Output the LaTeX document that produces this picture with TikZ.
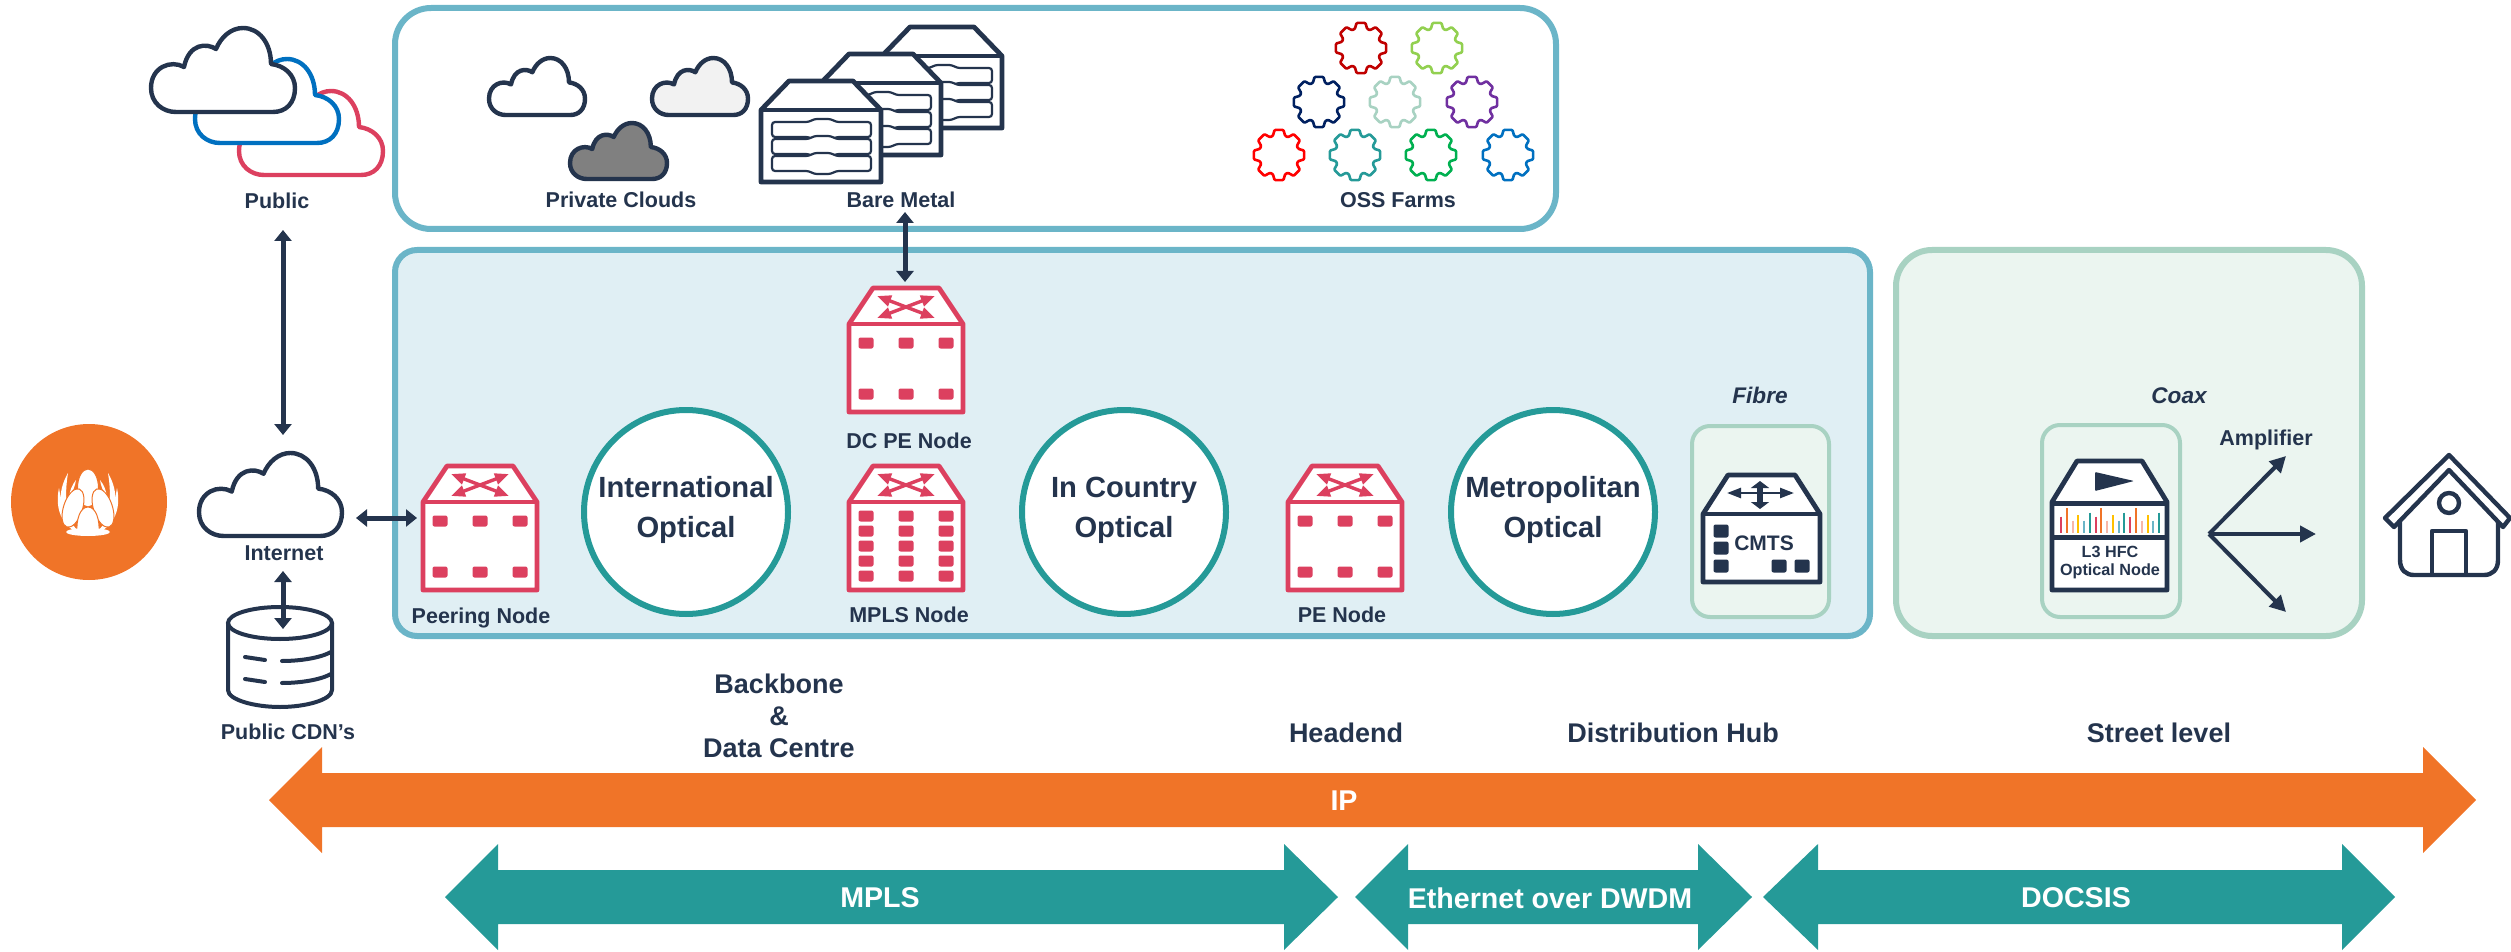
\documentclass[tikz,border=0pt]{standalone}
\usepackage{fontspec}
\setmainfont{Liberation Sans}
\usetikzlibrary{arrows.meta}
\definecolor{cNavy}{HTML}{24344D}
\definecolor{cRed}{HTML}{DC405F}
\definecolor{cTeal}{HTML}{259A98}
\definecolor{cOrange}{HTML}{F07428}
\definecolor{cSky}{HTML}{6BB5C8}
\definecolor{cMainFill}{HTML}{E0EFF4}
\definecolor{cMint}{HTML}{A8D2C2}
\definecolor{cMintFill}{HTML}{EBF5F0}
\definecolor{cBlue}{HTML}{0070C0}
\definecolor{cPeach}{HTML}{F7B7A8}
\definecolor{cYellow}{HTML}{FFC000}
\definecolor{gDarkRed}{HTML}{C00000}
\definecolor{gLime}{HTML}{92D050}
\definecolor{gNavy}{HTML}{002060}
\definecolor{gPurple}{HTML}{7030A0}
\definecolor{gRed}{HTML}{FF0000}
\definecolor{gGreen}{HTML}{00B050}
\tikzset{
  x=0.5pt,y=-0.5pt,
  lab/.style={font=\bfseries\fontsize{10.75pt}{12pt}\selectfont,text=cNavy,inner sep=0pt},
  biglab/.style={font=\bfseries\fontsize{13.5pt}{15pt}\selectfont,text=cNavy,inner sep=0pt},
  circlab/.style={font=\bfseries\fontsize{14.6pt}{17pt}\selectfont,text=cNavy,inner sep=0pt,align=center},
  bandlab/.style={font=\bfseries\fontsize{14.3pt}{16pt}\selectfont,text=white,inner sep=0pt},
  itlab/.style={font=\bfseries\itshape\fontsize{11.3pt}{13pt}\selectfont,text=cNavy,inner sep=0pt},
  panel/.style={rectangle,inner sep=0pt,rounded corners=#1},
  optical/.style={circle,draw=cTeal,line width=3pt,fill=white,minimum size=102pt,inner sep=0pt},
  dbl/.style={draw=cNavy,line width=2.5pt,{Triangle[length=5.5pt,width=8.5pt]}-{Triangle[length=5.5pt,width=8.5pt]}},
  fan/.style={draw=cNavy,line width=2pt,-{Triangle[length=8pt,width=8pt]}},
  iconline/.style={line width=2.4pt,line join=round},
  xarrow/.style={draw=cRed,line width=1.7pt,{Triangle[length=7pt,width=5.5pt]}-{Triangle[length=7pt,width=5.5pt]}},
  petal/.style={fill=white,draw=cOrange,line width=0.5pt},
}
\newcommand\panelbox[6]{\node[#6,minimum width={(#4-#2)*0.5pt},minimum height={(#5-#3)*0.5pt}] (#1) at ({(#2+#4)/2},{(#3+#5)/2}) {};}
\newcommand\cloudicon[7]{%
  \coordinate (#1) at ({#2+#4/2},{#3+#5/2});
  \begin{scope}[shift={(#2,#3)},xscale=#4/144,yscale=#5/56]
    \draw[draw=#6,fill=#7,line width=2.2pt,line join=round]
      (25,56) -- (122,56) .. controls (135,56) and (144,50) .. (144,40)
      .. controls (144,31) and (133,25) .. (120,24)
      .. controls (120,10) and (108,0) .. (92,0)
      .. controls (80,0) and (70,6) .. (65,14)
      .. controls (56,10) and (38,10) .. (33,26)
      .. controls (20,21) and (0,26) .. (0,40)
      .. controls (0,50) and (12,56) .. (25,56) -- cycle;
  \end{scope}}
\newcommand\routershell[3]{%
  \coordinate (#1) at (#2,{#3+62});
  \begin{scope}[shift={(#2,#3)}]
    \draw[draw=cRed,fill=white,iconline]
      (-57,36) -- (-33,0) -- (33,0) -- (57,36) -- (57,124) -- (-57,124) -- cycle;
    \draw[draw=cRed,iconline] (-57,36) -- (57,36);
    \draw[xarrow] (-29,8) -- (29,30);
    \draw[xarrow] (29,8) -- (-29,30);
  \end{scope}}
\newcommand\portsq[3]{\fill[#3,rounded corners=1pt] ({#1-7.5},{#2-5.5}) rectangle ({#1+7.5},{#2+5.5});}
\newcommand\serverrow[1]{%
  \draw[draw=cNavy,fill=white,line width=1.1pt,rounded corners=1.5pt]
    (11,#1) -- (48,#1) -- (53,{#1-3}) -- (70,{#1-3}) -- (75,#1) -- (110,#1)
    -- (110,{#1+15}) -- (75,{#1+15}) -- (70,{#1+18}) -- (53,{#1+18}) -- (48,{#1+15}) -- (11,{#1+15}) -- cycle;}
\newcommand\servericon[3]{%
  \coordinate (#1) at ({#2+60},{#3+50});
  \begin{scope}[shift={(#2,#3)}]
    \draw[draw=cNavy,fill=white,iconline] (0,29) -- (28,0) -- (92,0) -- (120,29) -- (120,101) -- (0,101) -- cycle;
    \draw[draw=cNavy,iconline] (0,29) -- (120,29);
    \serverrow{41}\serverrow{58}\serverrow{75}
  \end{scope}}
\newcommand\gearicon[4]{%
  \coordinate (#1) at (#2,#3);
  \begin{scope}[shift={(#2,#3)}]
    \draw[draw=#4,line width=1.3pt,line join=round,rounded corners=0.5pt,fill=white]
      (-18:20) foreach \a in {0,45,...,315} { -- (\a-18:20) -- (\a-10:25.5) -- (\a+10:25.5) -- (\a+18:20) } -- cycle;
  \end{scope}}
\newcommand\bandarrow[6]{%
  \fill[#6] (#1,#5) -- (#2,{#5-53}) -- (#2,{#5-27}) -- (#3,{#5-27}) -- (#3,{#5-53}) -- (#4,#5)
    -- (#3,{#5+53}) -- (#3,{#5+27}) -- (#2,{#5+27}) -- (#2,{#5+53}) -- cycle;}
\begin{document}
\begin{tikzpicture}
\useasboundingbox (0,0) rectangle (2511,952);
% panels
\panelbox{topPanel}{395}{8}{1556}{229}{panel=18pt,draw=cSky,line width=3pt,fill=white}
\panelbox{mainPanel}{395}{250}{1870}{636}{panel=11pt,draw=cSky,line width=3pt,fill=cMainFill}
\panelbox{coaxPanel}{1896}{250}{2362}{636}{panel=18pt,draw=cMint,line width=3pt,fill=cMintFill}
\panelbox{fibreBox}{1692}{426}{1829}{617}{panel=9pt,draw=cMint,line width=2pt,fill=cMintFill}
\panelbox{hfcBox}{2042}{425}{2180}{617}{panel=9pt,draw=cMint,line width=2pt,fill=cMintFill}
% public clouds
\cloudicon{cloudRed}{239}{91}{144}{84}{cRed}{white}
\cloudicon{cloudBlue}{195}{59}{144}{84}{cBlue}{white}
\cloudicon{cloudNavy}{151}{28}{144}{84}{cNavy}{white}
\node[lab] (lblPublic) at (277,201) {Public};
% internet & cdn
\cloudicon{cloudInternet}{199}{453}{143}{83}{cNavy}{white}
\node[lab] (lblInternet) at (284,553) {Internet};
\coordinate (cdnIcon) at (280,655);
\draw[draw=cNavy,line join=round,line width=2pt] (228,623) -- (228,690) .. controls (228,700) and (255,707) .. (280,707) .. controls (305,707) and (332,700) .. (332,690) -- (332,623);
\draw[draw=cNavy,line width=2pt] (280,623) ellipse (52 and 16);
\foreach \dy in {0,22}{
  \draw[draw=cNavy,line width=2pt,line cap=round] (245,{657+\dy}) -- (265,{660+\dy});
  \draw[draw=cNavy,line width=2pt,line cap=round] (282,{661+\dy}) .. controls (300,{661+\dy}) and (320,{658+\dy}) .. (331,{652+\dy});
}
\node[lab] (lblCDN) at (288,732) {Public CDN’s};
% logo
\node[circle,fill=cOrange,minimum size=78pt,inner sep=0pt] (logo) at (89,502) {};
\begin{scope}[shift={(88,502)}]
  % right feathers
  \fill[white] (20,-29) .. controls (31,-10) and (30,10) .. (15,25) .. controls (23,5) and (23,-10) .. (20,-29) -- cycle;
  \fill[white] (29,-14) .. controls (33,5) and (28,24) .. (6,33) .. controls (20,20) and (26,5) .. (29,-14) -- cycle;
  % left feathers
  \fill[white] (-20,-29) .. controls (-31,-10) and (-30,10) .. (-15,25) .. controls (-23,5) and (-23,-10) .. (-20,-29) -- cycle;
  \fill[white] (-29,-14) .. controls (-33,5) and (-28,24) .. (-6,33) .. controls (-20,20) and (-26,5) .. (-29,-14) -- cycle;
  % small inner feathers
  \fill[white] (12,-22) .. controls (16,-17) and (18,-12) .. (19,-5) .. controls (15,-10) and (13,-16) .. (12,-22) -- cycle;
  \fill[white] (-12,-22) .. controls (-16,-17) and (-18,-12) .. (-19,-5) .. controls (-15,-10) and (-13,-16) .. (-12,-22) -- cycle;
  % petals
  \draw[petal] (0,-14) ellipse (10.5 and 19);
  \draw[petal,rotate around={18:(15,6)}] (15,6) ellipse (9.5 and 20);
  \draw[petal,rotate around={-18:(-15,6)}] (-15,6) ellipse (9.5 and 20);
  \draw[petal] (0,5) .. controls (-8,5) and (-12,18) .. (-11,31) -- (11,31) .. controls (12,18) and (8,5) .. (0,5) -- cycle;
  \fill[white] (0,30) ellipse (22 and 4);
\end{scope}
% private clouds
\cloudicon{cloudPrivA}{489}{58}{96}{57}{cNavy}{white}
\cloudicon{cloudPrivB}{652}{58}{96}{57}{cNavy}{black!5}
\cloudicon{cloudPrivC}{570}{123}{97}{56}{cNavy}{black!50}
\node[lab] (lblPrivate) at (621,200) {Private Clouds};
% bare metal
\servericon{srvC}{882}{27}
\servericon{srvB}{821}{54}
\servericon{srvA}{761}{81}
\node[lab] (lblBare) at (901,200) {Bare Metal};
% gears
\node[lab] (lblOSS) at (1398,200) {OSS Farms};
\gearicon{gearA}{1361}{48}{gDarkRed}
\gearicon{gearB}{1437}{48}{gLime}
\gearicon{gearC}{1319}{102}{gNavy}
\gearicon{gearD}{1395}{102}{cMint}
\gearicon{gearE}{1472}{102}{gPurple}
\gearicon{gearF}{1279}{155}{gRed}
\gearicon{gearG}{1355}{155}{cTeal}
\gearicon{gearH}{1431}{155}{gGreen}
\gearicon{gearI}{1508}{155}{cBlue}
% routers
\routershell{peerIcon}{480}{466}
\foreach \x in {440,480,520}{\portsq{\x}{521}{cRed}\portsq{\x}{572}{cRed}}
\node[lab] (lblPeer) at (481,618) {Peering Node};
\routershell{dcpeIcon}{906}{288}
\foreach \x in {866,906,946}{\portsq{\x}{343}{cRed}\portsq{\x}{394}{cRed}}
\node[lab] (lblDCPE) at (909,441) {DC PE Node};
\routershell{mplsIcon}{906}{466}
\foreach \x in {866,906,946}{\foreach \y in {516,531,546,561,576}{\portsq{\x}{\y}{cRed}}}
\node[lab] (lblMPLS) at (909,615) {MPLS Node};
\routershell{peIcon}{1345}{466}
\foreach \x in {1305,1345,1385}{\portsq{\x}{521}{cRed}\portsq{\x}{572}{cRed}}
\node[lab] (lblPE) at (1342,615) {PE Node};
% optical
\node[optical] (optIntl) at (686,512) {};
\node[circlab] (lblIntl) at (686,510) {International\\[3pt]Optical};
\node[optical] (optCountry) at (1124,512) {};
\node[circlab] (lblCountry) at (1124,510) {In Country\\[3pt]Optical};
\node[optical] (optMetro) at (1553,512) {};
\node[circlab] (lblMetro) at (1553,510) {Metropolitan\\[3pt]Optical};
% CMTS
\node[itlab] (lblFibre) at (1760,395) {Fibre};
\coordinate (cmtsIcon) at (1761,528);
\draw[draw=cNavy,fill=white,iconline] (1703,514) -- (1728,475) -- (1795,475) -- (1820,514) -- (1820,582) -- (1703,582) -- cycle;
\draw[draw=cNavy,iconline] (1703,514) -- (1820,514);
\draw[draw=cNavy,line width=1.2pt,{Triangle[length=7pt,width=5pt]}-{Triangle[length=7pt,width=5pt]}] (1727,493) -- (1794,493);
\draw[draw=cNavy,line width=3pt,{Triangle[length=3.5pt,width=9pt]}-{Triangle[length=3.5pt,width=9pt]}] (1760,481) -- (1760,509);
\foreach \x/\y in {1721/531,1721/548,1721/566,1779/566,1802/566}{\fill[cNavy,rounded corners=1pt] ({\x-7.5},{\y-6.5}) rectangle ({\x+7.5},{\y+6.5});}
\node[font=\bfseries\fontsize{10.5pt}{12pt}\selectfont,text=cNavy,inner sep=0pt] (lblCMTS) at (1764,543) {CMTS};
% L3 node
\node[itlab] (lblCoax) at (2179,396) {Coax};
\coordinate (hfcIcon) at (2110,525);
\draw[draw=cNavy,fill=white,iconline] (2052,502) -- (2077,461) -- (2142,461) -- (2167,502) -- (2167,590) -- (2052,590) -- cycle;
\draw[draw=cNavy,line width=2.5pt] (2052,503) -- (2167,503);
\draw[draw=cNavy,line width=2.5pt] (2052,537) -- (2167,537);
\fill[cNavy,rounded corners=0.5pt] (2095,472) -- (2134,481) -- (2095,491) -- cycle;
\foreach \x/\t/\c in {153/380/cRed,170/355/cOrange,188/392/cPeach,205/376/cYellow,222/392/cSky,240/368/cTeal,257/380/cRed,274/355/cOrange,292/392/cPeach,309/376/cYellow,326/392/cSky,343/368/cTeal,361/380/cRed,378/355/cOrange,396/392/cPeach,413/376/cYellow,430/392/cSky,447/368/cTeal}{
  \draw[draw=\c,line width=1pt] ({2010+\x/3},{390+\t/3}) -- ({2010+\x/3},533);
}
\node[font=\bfseries\fontsize{8.1pt}{10pt}\selectfont,text=cNavy,inner sep=0pt] (lblHFC) at (2110,552) {L3 HFC};
\node[font=\bfseries\fontsize{8.1pt}{10pt}\selectfont,text=cNavy,inner sep=0pt] (lblOptNode) at (2110,571) {Optical Node};
% amplifier
\node[lab] (lblAmp) at (2266,440) {Amplifier};
\coordinate (ampOrigin) at (2209,534);
\coordinate (ampUp) at (2286,456);
\coordinate (ampRight) at (2316,534);
\coordinate (ampDown) at (2286,612);
\draw[fan] (ampOrigin) -- (ampUp);
\draw[fan] (ampOrigin) -- (ampRight);
\draw[fan] (ampOrigin) -- (ampDown);
% house
\coordinate (house) at (2449,520);
\draw[draw=cNavy,line width=2.2pt,line join=round,line cap=round] (2400,519) -- (2400,560) .. controls (2400,570) and (2406,575) .. (2414,575) -- (2484,575) .. controls (2492,575) and (2498,570) .. (2498,560) -- (2498,519);
\draw[draw=cNavy,line width=2.2pt,line join=round,fill=white] (2394,527) -- (2385,518) -- (2449,455) -- (2510,518) -- (2503,527) -- (2449,470) -- cycle;
\draw[draw=cNavy,line width=2.2pt,line join=round] (2432,575) -- (2432,531) -- (2466,531) -- (2466,575);
\draw[draw=cNavy,line width=2.2pt] (2449,503) circle (10);
% connectors
\coordinate (arrPublicTop) at (283,230);
\coordinate (arrPublicBot) at (283,435);
\draw[dbl] (arrPublicTop) -- (arrPublicBot);
\coordinate (arrCdnTop) at (283,571);
\coordinate (arrCdnBot) at (283,629);
\draw[dbl] (arrCdnTop) -- (arrCdnBot);
\coordinate (arrPeerL) at (356,518);
\coordinate (arrPeerR) at (417,518);
\draw[dbl] (arrPeerL) -- (arrPeerR);
\coordinate (arrBareTop) at (905,212);
\coordinate (arrBareBot) at (905,282);
\draw[dbl] (arrBareTop) -- (arrBareBot);
% location labels
\node[biglab] (lblBackbone) at (779,684) {Backbone};
\node[biglab] (lblAmp2) at (779,716) {\&};
\node[biglab] (lblDC) at (779,748) {Data Centre};
\node[biglab] (lblHead) at (1346,733) {Headend};
\node[biglab] (lblHub) at (1673,733) {Distribution Hub};
\node[biglab] (lblStreet) at (2159,733) {Street level};
% bands
\bandarrow{269}{322}{2423}{2476}{800}{cOrange}
\node[bandlab] (lblIP) at (1344,801) {IP};
\bandarrow{445}{498}{1284}{1338}{897}{cTeal}
\node[bandlab] (lblBandMPLS) at (880,898) {MPLS};
\bandarrow{1355}{1408}{1698}{1752}{897}{cTeal}
\node[bandlab] (lblBandEth) at (1550,898) {Ethernet over DWDM};
\bandarrow{1763}{1818}{2342}{2395}{897}{cTeal}
\node[bandlab] (lblBandDocsis) at (2076,898) {DOCSIS};
\end{tikzpicture}
\end{document}
